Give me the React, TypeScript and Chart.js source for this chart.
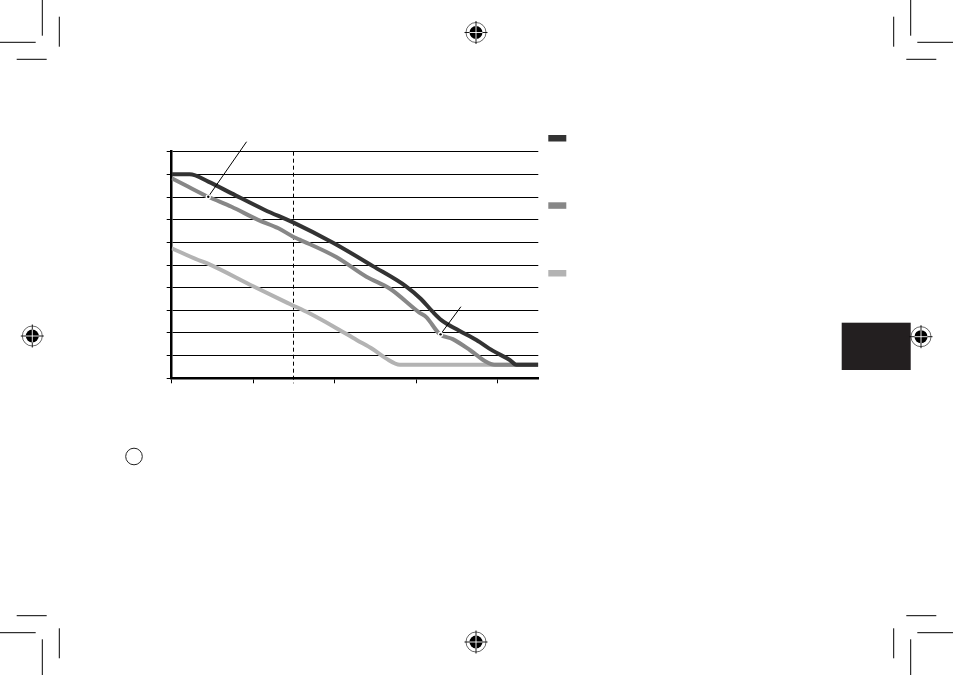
import React, { useEffect, useRef } from "react";
import { Chart, registerables } from "chart.js";

Chart.register(...registerables);

// ---- data (x in axis units 0..4.5, y in 0..100) ----
const xTicks = [0, 1, 2, 3, 4];
const yTicks = [0, 10, 20, 30, 40, 50, 60, 70, 80, 90, 100];
const dashedX = 1.5;

const darkX = [0, 0.22, 0.449, 0.735, 1.143, 1.49, 1.98, 2.47, 2.88, 3.06, 3.2, 3.31, 3.53, 3.74, 3.94, 4.15, 4.23, 4.5];
const darkY = [90, 90, 86.8, 81.6, 74.3, 68.8, 59.8, 49.5, 40.5, 35, 29.5, 25.7, 21, 16.9, 12.2, 8.1, 6, 6];

const midX = [0, 0.163, 0.449, 0.735, 1.06, 1.31, 1.49, 1.57, 2.02, 2.39, 2.68, 3.04, 3.125, 3.29, 3.45, 3.66, 3.86, 3.96, 4.5];
const midY = [88.3, 85.3, 80.1, 75.7, 69.9, 66.2, 62.5, 61.2, 53.5, 44.8, 39.5, 29, 27, 19.5, 17.3, 12.5, 7.3, 6, 6];

const lightX = [0, 0.326, 0.43, 1.0, 1.45, 1.69, 1.98, 2.27, 2.47, 2.63, 2.8, 4.5];
const lightY = [57.4, 52.2, 50.8, 40.6, 32.8, 28.7, 23, 16.9, 12.8, 8.8, 6, 6];

// callout leader lines: [startX, startY, endX, endY]
const callout1 = [0.449, 80.1, 0.919, 104.4];
const callout2 = [3.3, 19.4, 3.55, 31.6];

const seriesColors = ["#333333", "#878787", "#b3b3b3"];

const toPts = (xs: number[], ys: number[]) => xs.map((x, i) => ({ x, y: ys[i] }));

const overlayPlugin = {
  id: "overlay",
  beforeDatasetsDraw(chart: any) {
    const { ctx, chartArea, scales } = chart;
    const x = Math.round(scales.x.getPixelForValue(dashedX)) - 0.5;
    ctx.save();
    ctx.strokeStyle = "#000";
    ctx.lineWidth = 1;
    ctx.setLineDash([4, 3]);
    ctx.beginPath();
    ctx.moveTo(x, chartArea.top);
    ctx.lineTo(x, chartArea.bottom + 5);
    ctx.stroke();
    ctx.restore();
  },
  afterDatasetsDraw(chart: any) {
    const { ctx, scales } = chart;
    ctx.save();
    [callout1, callout2].forEach((c) => {
      const x0 = scales.x.getPixelForValue(c[0]);
      const y0 = scales.y.getPixelForValue(c[1]);
      const x1 = scales.x.getPixelForValue(c[2]);
      const y1 = scales.y.getPixelForValue(c[3]);
      ctx.strokeStyle = "#000";
      ctx.lineWidth = 1;
      ctx.beginPath();
      ctx.moveTo(x0, y0);
      ctx.lineTo(x1, y1);
      ctx.stroke();
      ctx.fillStyle = "#fff";
      ctx.beginPath();
      ctx.arc(x0, y0, 2.6, 0, Math.PI * 2);
      ctx.fill();
      ctx.fillStyle = "#000";
      ctx.beginPath();
      ctx.arc(x0, y0, 1.2, 0, Math.PI * 2);
      ctx.fill();
    });
    ctx.restore();
  },
  afterDraw(chart: any) {
    const { ctx, chartArea } = chart;
    const sx = chartArea.right + 10;
    const ys = [135, 202.3, 270];
    ctx.save();
    seriesColors.forEach((c, i) => {
      ctx.fillStyle = c;
      ctx.fillRect(sx, ys[i], 18, 6.5);
    });
    ctx.restore();
  },
};

function Reg({ cx, cy }: { cx: number; cy: number }) {
  return (
    <g>
      <circle cx={cx} cy={cy} r={10} fill="none" stroke="#000" strokeWidth={0.6} />
      <circle cx={cx} cy={cy} r={6.5} fill="#000" />
      <line x1={cx - 11.5} y1={cy} x2={cx + 11.5} y2={cy} stroke="#000" strokeWidth={0.9} />
      <line x1={cx} y1={cy - 11.5} x2={cx} y2={cy + 11.5} stroke="#000" strokeWidth={0.9} />
      <line x1={cx - 6.5} y1={cy} x2={cx + 6.5} y2={cy} stroke="#fff" strokeWidth={0.9} />
      <line x1={cx} y1={cy - 6.5} x2={cx} y2={cy + 6.5} stroke="#fff" strokeWidth={0.9} />
    </g>
  );
}

function CropMarks() {
  const W = 953;
  const H = 675;
  const segs: number[][] = [];
  segs.push([42.3, 0, 42.3, 35.7], [0, 42.3, 35.7, 42.3], [59.3, 16.7, 59.3, 46.7], [16.7, 59.3, 46.7, 59.3]);
  const mirrorX = (s: number[]) => [W - s[0], s[1], W - s[2], s[3]];
  const mirrorY = (s: number[]) => [s[0], H - s[1], s[2], H - s[3]];
  const tl = segs.slice();
  tl.forEach((s) => {
    segs.push(mirrorX(s));
    segs.push(mirrorY(s));
    segs.push(mirrorY(mirrorX(s)));
  });
  return (
    <g>
      {segs.map((s, i) => (
        <line key={i} x1={s[0]} y1={s[1]} x2={s[2]} y2={s[3]} stroke="#000" strokeWidth={1} />
      ))}
    </g>
  );
}

export default function App() {
  const canvasRef = useRef<HTMLCanvasElement | null>(null);

  useEffect(() => {
    if (!canvasRef.current) return;
    const chart = new Chart(canvasRef.current, {
      type: "line",
      data: {
        datasets: [
          { data: toPts(darkX, darkY), borderColor: seriesColors[0] },
          { data: toPts(midX, midY), borderColor: seriesColors[1] },
          { data: toPts(lightX, lightY), borderColor: seriesColors[2] },
        ].map((d) => ({
          ...d,
          borderWidth: 4,
          pointRadius: 0,
          cubicInterpolationMode: "monotone" as const,
          fill: false,
          borderJoinStyle: "round" as const,
          borderCapStyle: "butt" as const,
        })),
      },
      options: {
        responsive: false,
        animation: false,
        events: [],
        layout: { padding: { left: 166.7, top: 151.7, right: 414.7, bottom: 291.7 } },
        plugins: { legend: { display: false }, tooltip: { enabled: false }, title: { display: false } },
        scales: {
          x: {
            type: "linear",
            min: 0,
            max: 4.5,
            afterFit: (s: any) => {
              s.height = 5;
            },
            afterBuildTicks: (s: any) => {
              s.ticks = xTicks.map((v) => ({ value: v }));
            },
            ticks: { display: false, stepSize: 1, includeBounds: false },
            grid: { drawOnChartArea: false, drawTicks: true, tickLength: 5, color: "#000", lineWidth: 1 },
            border: { display: true, width: 2.5, color: "#000" },
          },
          y: {
            type: "linear",
            min: 0,
            max: 100,
            afterFit: (s: any) => {
              s.width = 5;
            },
            afterBuildTicks: (s: any) => {
              s.ticks = yTicks.map((v) => ({ value: v }));
            },
            ticks: { display: false, stepSize: 10 },
            grid: { drawOnChartArea: true, drawTicks: true, tickLength: 5, color: "#000", lineWidth: 1 },
            border: { display: true, width: 2.5, color: "#000" },
          },
        },
      },
      plugins: [overlayPlugin],
    });
    return () => chart.destroy();
  }, []);

  return (
    <div style={{ position: "absolute", left: 0, top: 0, width: 953, height: 675, background: "#fff", overflow: "hidden" }}>
      <canvas ref={canvasRef} width={953} height={675} style={{ position: "absolute", left: 0, top: 0, width: 953, height: 675 }} />
      <svg width={953} height={675} style={{ position: "absolute", left: 0, top: 0, pointerEvents: "none" }}>
        <CropMarks />
        <Reg cx={476} cy={32.5} />
        <Reg cx={476} cy={642} />
        <Reg cx={32.3} cy={336} />
        <rect x={841.7} y={322.7} width={69} height={47.3} fill="#231f20" />
        <Reg cx={921} cy={336.7} />
        <circle cx={134} cy={456.5} r={8.3} fill="none" stroke="#222" strokeWidth={1} />
      </svg>
    </div>
  );
}
